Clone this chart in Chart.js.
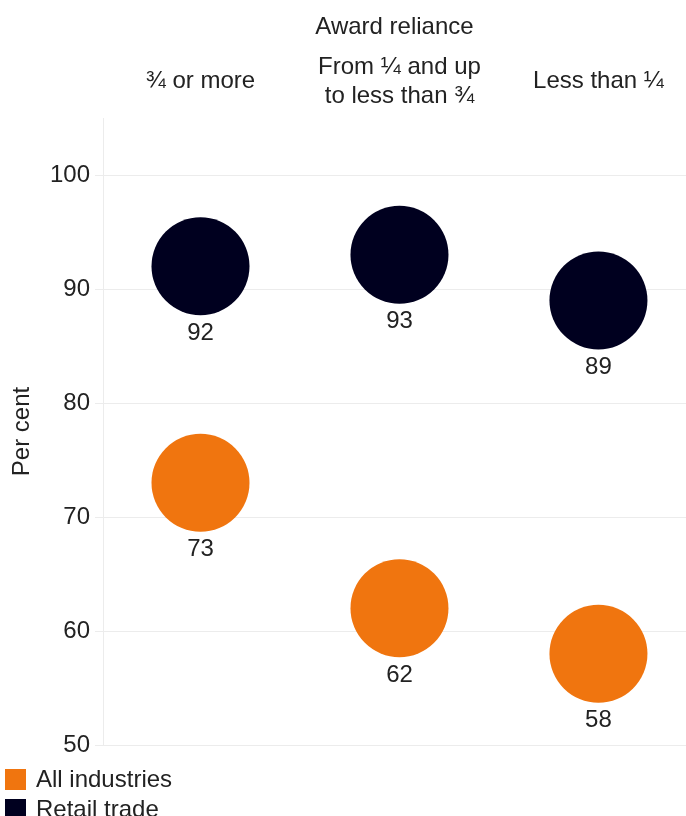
<!DOCTYPE html>
<html>
<head>
<meta charset="utf-8">
<script src="https://cdn.jsdelivr.net/npm/chart.js@4"></script>
<style>
  body { margin: 0; background: #fff; font-family: "Liberation Sans", Arial, sans-serif; }
  .wrap { position: relative; width: 686px; height: 816px; }
  #legend { position: absolute; left: 5px; top: 764px; }
  .legend-item { display: flex; align-items: center; height: 30px; font-size: 24px; color: #222; }
  .legend-box { width: 21px; height: 21px; margin-right: 10px; }
</style>
</head>
<body>
<div class="wrap">
  <canvas id="awardChart" width="686" height="816"></canvas>
  <div id="legend"></div>
</div>
<script>
// Award reliance groups (top axis)
const categories = ['¾ or more', ['From ¼ and up', 'to less than ¾'], 'Less than ¼'];
const seriesNames = ['All industries', 'Retail trade'];
const allIndustries = [73, 62, 58];
const retailTrade = [92, 93, 89];
const yTicks = [50, 60, 70, 80, 90, 100];

const colors = ['#F0750F', '#00001F'];
const textColor = '#222';
const fontFamily = '"Liberation Sans", Arial, sans-serif';

const toPoints = values => values.map((v, i) => ({ x: i, y: v }));

// Writes the value underneath each circle
const valueLabels = {
    id: 'valueLabels',
    afterDatasetsDraw(chart) {
        const c = chart.ctx;
        c.save();
        c.font = '24px ' + fontFamily;
        c.fillStyle = textColor;
        c.textAlign = 'center';
        c.textBaseline = 'middle';
        chart.data.datasets.forEach((ds, di) => {
            chart.getDatasetMeta(di).data.forEach((pt, i) => {
                c.fillText(ds.data[i].y, pt.x, pt.y + 67);
            });
        });
        c.restore();
    }
};

const ctx = document.getElementById('awardChart');
new Chart(ctx.getContext('2d'), {
    type: 'scatter',
    data: {
        datasets: [
            { label: seriesNames[0], data: toPoints(allIndustries), backgroundColor: colors[0] },
            { label: seriesNames[1], data: toPoints(retailTrade), backgroundColor: colors[1] }
        ]
    },
    options: {
        responsive: false,
        animation: false,
        layout: { autoPadding: false, padding: { top: 0, right: 0, bottom: 71, left: 0 } },
        elements: {
            point: { radius: 49, hoverRadius: 49, borderWidth: 0 }
        },
        plugins: {
            legend: { display: false },
            tooltip: { enabled: false }
        },
        scales: {
            x: {
                type: 'linear',
                position: 'top',
                min: -0.49,
                max: 2.44,
                afterBuildTicks: axis => { axis.ticks = categories.map((c, i) => ({ value: i })); },
                afterFit: axis => {
                    axis.height = 118;
                    axis.paddingLeft = 0;
                    axis.paddingRight = 0;
                },
                grid: { display: false, drawTicks: false },
                border: { display: false },
                ticks: {
                    color: textColor,
                    font: { size: 24, family: fontFamily },
                    padding: 22,
                    crossAlign: 'center',
                    maxRotation: 0,
                    autoSkip: false,
                    callback: v => categories[v]
                },
                title: {
                    display: true,
                    text: 'Award reliance',
                    color: textColor,
                    font: { size: 24, family: fontFamily },
                    padding: { top: 13, bottom: 4 }
                }
            },
            y: {
                min: 50,
                max: 105,
                afterBuildTicks: axis => { axis.ticks = yTicks.map(v => ({ value: v })); },
                afterFit: axis => { axis.width = 103; },
                grid: { color: '#ececec', lineWidth: 1, tickLength: 8 },
                border: { color: '#ececec' },
                ticks: {
                    color: textColor,
                    font: { size: 24, family: fontFamily },
                    padding: 5
                },
                title: {
                    display: true,
                    text: 'Per cent',
                    color: textColor,
                    font: { size: 24, family: fontFamily },
                    padding: { top: 8, bottom: 4 }
                }
            }
        }
    },
    plugins: [valueLabels]
});

// Legend stacked under the plot
const legend = document.getElementById('legend');
seriesNames.forEach((name, i) => {
    const div = document.createElement('div');
    div.className = 'legend-item';
    div.innerHTML = `<span class="legend-box" style="background:${colors[i]}"></span>${name}`;
    legend.appendChild(div);
});
</script>
</body>
</html>
